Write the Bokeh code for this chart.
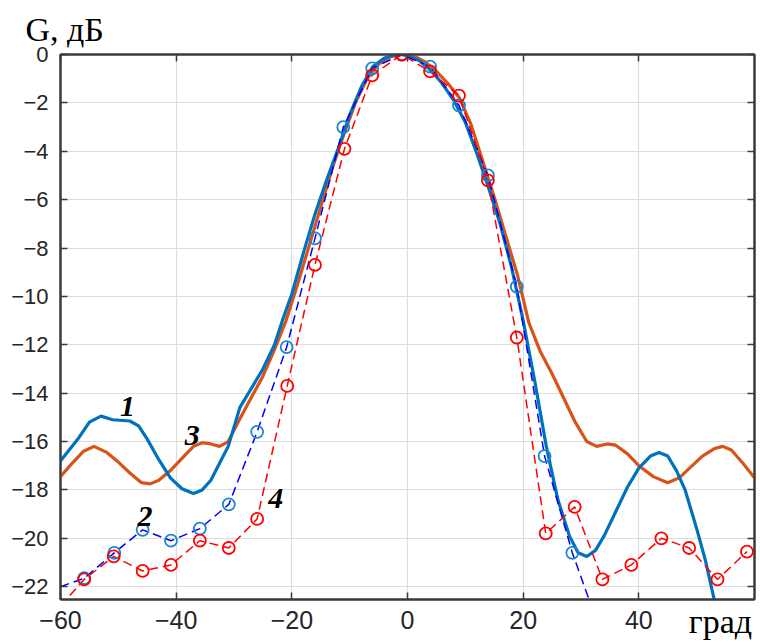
from bokeh.plotting import figure
from bokeh.models import Range1d, LinearAxis, Label, FixedTicker, Title
from bokeh.embed import file_html
from bokeh.resources import INLINE

# ---------------- data ----------------
# Curve 1 (solid blue)
c1_x = [-60, -57, -55, -53, -51, -48, -46.5, -45, -43, -41, -39, -37, -35.5, -34, -32.5, -31,
        -29, -27, -25, -23, -21.5, -20, -18, -16, -14, -12, -10, -8, -6, -4, -2, -1, 0, 2, 4,
        6, 8, 10, 12, 14, 16, 18, 20, 22, 24, 26, 28, 29.5, 31, 32.5, 34, 36, 38, 40, 42, 43.5,
        45, 46.5, 48, 50, 51.5, 53, 53.5]
c1_y = [-16.8, -15.9, -15.2, -14.95, -15.1, -15.15, -15.35, -15.9, -16.75, -17.5, -17.95, -18.15,
        -18.0, -17.6, -16.9, -16.2, -14.6, -13.8, -13.0, -12.0, -10.9, -9.9, -8.2, -6.6, -5.2,
        -3.9, -2.5, -1.35, -0.5, -0.15, 0.0, 0.0, -0.05, -0.25, -0.65, -1.2, -1.9, -2.8, -4.1,
        -5.5, -7.0, -8.8, -11.0, -13.5, -16.2, -18.4, -19.9, -20.6, -20.75, -20.5, -19.9, -18.9,
        -17.9, -17.1, -16.6, -16.45, -16.6, -17.2, -18.0, -19.6, -20.9, -22.5, -23.5]

# Curve 3 (solid orange)
c3_x = [-60, -58, -56, -54.2, -52, -50, -48, -46, -44.5, -43, -41, -39, -37, -35.5, -34, -32.5,
        -31, -29.5, -27.5, -25, -23, -21, -19, -17, -15, -13, -11, -9, -7, -5, -3, -1, 1, 3, 5,
        7, 9, 11, 13, 15, 17, 19, 21, 23, 25, 27, 29, 31, 32.7, 34.5, 36, 38, 40, 42.5, 45, 47,
        49, 51, 53, 54.5, 56, 58, 60]
c3_y = [-17.45, -16.9, -16.4, -16.2, -16.45, -16.85, -17.3, -17.7, -17.75, -17.6, -17.2, -16.7,
        -16.2, -16.05, -16.1, -16.2, -16.0, -15.3, -14.4, -13.3, -12.2, -11.0, -9.5, -7.9, -6.3,
        -4.7, -3.3, -2.0, -1.0, -0.4, -0.1, 0.0, -0.05, -0.3, -0.7, -1.2, -1.8, -2.9, -4.4,
        -5.9, -7.5, -9.1, -11.1, -12.3, -13.2, -14.2, -15.2, -16.0, -16.2, -16.1, -16.15, -16.5,
        -17.0, -17.45, -17.7, -17.5, -17.05, -16.6, -16.3, -16.2, -16.35, -16.9, -17.5]

# Curve 2 (dashed blue, circle markers)
c2_mx = [-55.9, -50.7, -45.8, -40.9, -35.9, -30.9, -26.0, -20.9, -16.0, -11.1, -6.1, -1.0,
         3.9, 8.9, 13.9, 18.9, 23.7, 28.5]
c2_my = [-21.65, -20.6, -19.65, -20.1, -19.6, -18.6, -15.6, -12.1, -7.6, -3.0, -0.57, 0.0,
         -0.5, -2.1, -5.0, -9.6, -16.6, -20.6]
c2_lx = [-60] + c2_mx + [31.8]
c2_ly = [-22.0] + c2_my + [-22.8]

# Curve 4 (dashed red, circle markers)
c4_mx = [-55.9, -50.8, -45.8, -40.9, -35.9, -30.9, -26.0, -20.8, -16.0, -10.9, -6.1, -1.0,
         3.9, 8.9, 13.9, 18.9, 23.9, 28.9, 33.7, 38.7, 43.9, 48.7, 53.6, 58.7]
c4_my = [-21.7, -20.75, -21.35, -21.1, -20.1, -20.4, -19.2, -13.7, -8.7, -3.9, -0.86, 0.0,
         -0.7, -1.7, -5.2, -11.7, -19.8, -18.7, -21.7, -21.1, -20.0, -20.4, -21.7, -20.55]
c4_lx = [-60] + c4_mx
c4_ly = [-22.8] + c4_my

x_ticks = [-60, -40, -20, 0, 20, 40]
y_ticks = [0, -2, -4, -6, -8, -10, -12, -14, -16, -18, -20, -22]

curve_labels = ["1", "2", "3", "4"]
curve_label_x = [-48.4, -45.4, -37.2, -22.8]
curve_label_y = [-14.56, -19.1, -15.73, -18.36]

y_axis_title = "G, дБ"
x_axis_title = "град"

# ---------------- figure ----------------
AX = "#3a3a3a"
TICK_TXT = "#262626"

p = figure(width=760, height=642, output_backend="svg", toolbar_location=None,
           x_range=Range1d(-60, 60), y_range=Range1d(-22.53, 0),
           min_border_left=60, min_border_right=6, min_border_top=54, min_border_bottom=40)
p.outline_line_color = AX
p.outline_line_width = 2
p.background_fill_color = "white"
p.border_fill_color = "white"

p.title = Title(text=y_axis_title, align="left", offset=-35, standoff=13,
                text_font="Liberation Serif", text_font_size="34px",
                text_font_style="normal", text_color="black")

p.xaxis.ticker = FixedTicker(ticks=x_ticks)
p.yaxis.ticker = FixedTicker(ticks=y_ticks)
for ax in (p.xaxis[0], p.yaxis[0]):
    ax.axis_line_color = AX
    ax.axis_line_width = 2
    ax.major_tick_line_color = AX
    ax.major_tick_line_width = 1.5
    ax.major_tick_in = 7
    ax.major_tick_out = 0
    ax.minor_tick_line_color = None
    ax.major_label_text_font = "Liberation Sans"
    ax.major_label_text_color = TICK_TXT
p.xaxis.major_label_standoff = 11
p.yaxis.major_label_standoff = 12
p.xaxis.major_label_text_font_size = "25px"
p.yaxis.major_label_text_font_size = "22px"

# x axis title at the right end of the axis, sharing the tick-label row.
# The label is centred on the axis end, so trailing no-break spaces shift the
# visible word left, inside the window.
xa = p.xaxis[0]
xa.axis_label = x_axis_title + "\u00a0" * 8
xa.axis_label_text_font = "Liberation Serif"
xa.axis_label_text_font_size = "34px"
xa.axis_label_text_font_style = "normal"
xa.axis_label_text_color = "black"
xa.axis_label_standoff = -29
if "axis_label_align" in xa.properties():
    xa.axis_label_align = "end"

# box axes (ticks only, no labels)
right = LinearAxis(ticker=FixedTicker(ticks=y_ticks),
                   major_label_overrides={t: "" for t in y_ticks},
                   major_label_standoff=0, axis_line_color=AX, axis_line_width=2,
                   major_tick_line_color=AX, major_tick_line_width=1.5, major_tick_in=7,
                   major_tick_out=0, minor_tick_line_color=None)
top = LinearAxis(ticker=FixedTicker(ticks=x_ticks),
                 major_label_overrides={t: "" for t in x_ticks},
                 major_label_standoff=0, axis_line_color=AX, axis_line_width=2,
                 major_tick_line_color=AX, major_tick_line_width=1.5, major_tick_in=7,
                 major_tick_out=0, minor_tick_line_color=None)
p.add_layout(right, "right")
p.add_layout(top, "above")

p.xgrid.grid_line_color = "#dddddd"
p.ygrid.grid_line_color = "#dddddd"
p.xgrid.grid_line_width = 1.2
p.ygrid.grid_line_width = 1.2

# ---------------- curves ----------------
p.line(c3_x, c3_y, line_color="#D95319", line_width=3.2)
p.line(c1_x, c1_y, line_color="#0072BD", line_width=3.2)
p.line(c2_lx, c2_ly, line_color="#0000FF", line_width=1.5, line_dash="9 5")
p.line(c4_lx, c4_ly, line_color="#FF0000", line_width=1.5, line_dash="9 5")
p.scatter(c2_mx, c2_my, marker="circle", size=12, fill_color=None,
          line_color="#1a86d0", line_width=1.8)
p.scatter(c4_mx, c4_my, marker="circle", size=12, fill_color=None,
          line_color="#FF0000", line_width=1.8)

for t, lx, ly in zip(curve_labels, curve_label_x, curve_label_y):
    p.add_layout(Label(x=lx, y=ly, text=t, text_font="Liberation Serif",
                       text_font_style="bold italic", text_font_size="30px",
                       text_align="center", text_baseline="middle", text_color="black"))

open("out.html", "w").write(file_html(p, INLINE))
